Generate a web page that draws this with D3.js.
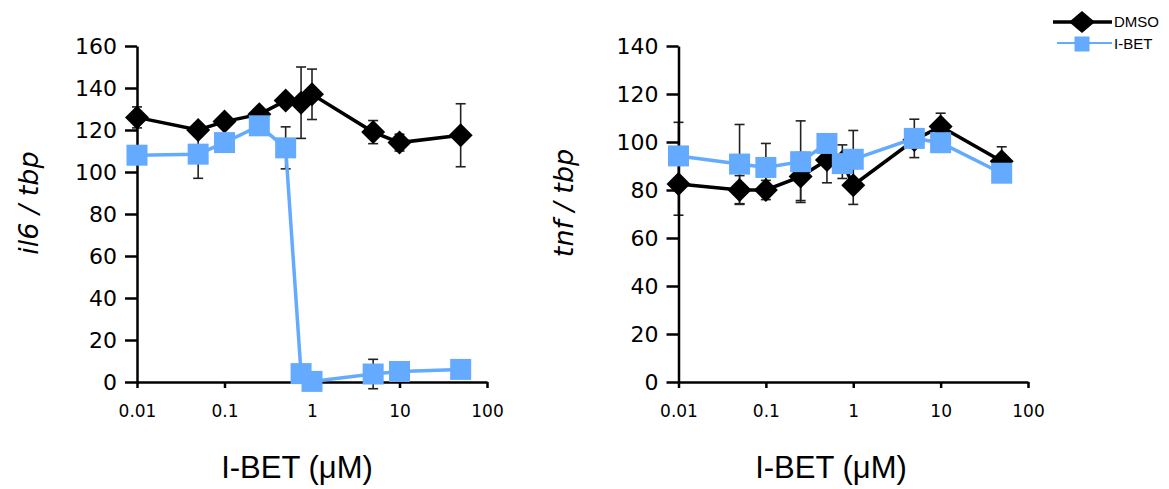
<!DOCTYPE html>
<html>
<head>
<meta charset="utf-8">
<script src="https://cdn.jsdelivr.net/npm/d3@7"></script>
<style>
  body { margin: 0; background: #fff; }
  svg { display: block; }
  .tick text { font-family: "DejaVu Sans", Verdana, sans-serif; fill: #000; }
  .title { font-family: "DejaVu Sans", Verdana, sans-serif; fill: #000; }
  .xtitle { font-family: "Liberation Sans", Arial, sans-serif; fill: #000; }
  .legend text { font-family: "Liberation Sans", Arial, sans-serif; font-size: 15px; fill: #000; }
</style>
</head>
<body>
<svg id="chart" width="1169" height="489"></svg>
<script>
// doses of I-BET (uM)
const doses = [0.01, 0.05, 0.1, 0.25, 0.5, 0.75, 1, 5, 10, 50];
const xTicks = [0.01, 0.1, 1, 10, 100];

// il6 / tbp
const il6Dmso    = [126, 120, 124, 127.5, 134, 133, 137, 119, 114, 117.5];
const il6DmsoErr = [5, 3, 2, 2, 2, 17, 12, 5.5, 4, 15];
const il6Ibet    = [108, 108.5, 114, 122, 111.5, 4, 0.3, 3.8, 5, 6];
const il6IbetErr = [2, 11.5, 2, 2, 10, 1, 1, 7, 2, 1];
const il6Ticks   = [0, 20, 40, 60, 80, 100, 120, 140, 160];

// tnf / tbp
const tnfDmso    = [82.5, 80, 80, 85.6, 92.5, 91.8, 82, 100.8, 106.5, 92];
const tnfDmsoErr = [13, 6, 4, 10, 9.5, 7, 8, 3, 5.5, 6];
const tnfIbet    = [94.2, 90.8, 89.4, 91.8, 99.4, 91, 92.8, 101.5, 99.7, 87];
const tnfIbetErr = [14, 16.5, 10, 17, 3, 3, 12, 8, 3, 3];
const tnfTicks   = [0, 20, 40, 60, 80, 100, 120, 140];

const BLACK = "#000";
const BLUE = "#64aaff";
const svg = d3.select("#chart");

function diamond(g, cx, cy, rx, ry, color){
  g.append("path")
    .attr("d", `M${cx},${cy-ry}L${cx+rx},${cy}L${cx},${cy+ry}L${cx-rx},${cy}Z`)
    .attr("fill", color);
}

function square(g, cx, cy, s, color){
  g.append("rect")
    .attr("x", cx - s/2).attr("y", cy - s/2)
    .attr("width", s).attr("height", s)
    .attr("fill", color);
}

function panel(opt){
  const x = d3.scaleLog().domain([0.01, 100]).range(opt.xRange);
  const y = d3.scaleLinear().domain([0, opt.yMax]).range([382, 46]);
  const g = svg.append("g");

  // error bars
  const series = [
    {v: opt.dmso, e: opt.dmsoErr},
    {v: opt.ibet, e: opt.ibetErr}
  ];
  series.forEach(s => {
    doses.forEach((d, i) => {
      const cx = x(d), y0 = y(s.v[i] - s.e[i]), y1 = y(s.v[i] + s.e[i]);
      const eb = g.append("g").attr("stroke", "#222").attr("stroke-width", 1.6);
      eb.append("line").attr("x1", cx).attr("x2", cx).attr("y1", y0).attr("y2", y1);
      eb.append("line").attr("x1", cx-5).attr("x2", cx+5).attr("y1", y0).attr("y2", y0);
      eb.append("line").attr("x1", cx-5).attr("x2", cx+5).attr("y1", y1).attr("y2", y1);
    });
  });

  // axes
  const yAxis = d3.axisLeft(y).tickValues(opt.yTicks).tickSize(12).tickPadding(8)
    .tickSizeOuter(0).tickFormat(d3.format("d"));
  const xAxis = d3.axisBottom(x).tickValues(xTicks).tickSize(6).tickPadding(17)
    .tickSizeOuter(0).tickFormat(d => d < 1 ? String(d) : d3.format("d")(d));

  g.append("g").attr("transform", `translate(${opt.xRange[0]},0)`).call(yAxis)
    .call(a => a.selectAll("text").attr("font-size", 22))
    .call(a => a.selectAll("line,path").attr("stroke", "#000").attr("stroke-width", 2.5));
  g.append("g").attr("transform", "translate(0,382)").call(xAxis)
    .call(a => a.selectAll("text").attr("font-size", 17))
    .call(a => a.selectAll("line,path").attr("stroke", "#000").attr("stroke-width", 2.5));

  // lines and markers
  const line = v => d3.line().x((d, i) => x(d)).y((d, i) => y(v[i]))(doses);
  g.append("path").attr("d", line(opt.dmso)).attr("fill", "none")
    .attr("stroke", BLACK).attr("stroke-width", 3.5);
  doses.forEach((d, i) => diamond(g, x(d), y(opt.dmso[i]), 12, 12, BLACK));
  g.append("path").attr("d", line(opt.ibet)).attr("fill", "none")
    .attr("stroke", BLUE).attr("stroke-width", 3.5);
  doses.forEach((d, i) => square(g, x(d), y(opt.ibet[i]), 21, BLUE));

  // titles
  g.append("text").attr("class", "xtitle").attr("x", opt.xTitleX).attr("y", 478)
    .attr("text-anchor", "middle").attr("font-size", 31).text("I-BET (\u03bcM)");
  g.append("text").attr("class", "title")
    .attr("transform", `translate(${opt.yTitleX},203) rotate(-90)`)
    .attr("text-anchor", "middle").attr("font-size", 27).attr("font-style", "italic")
    .text(opt.yTitle);
}

panel({xRange: [137, 487], yMax: 160, yTicks: il6Ticks, dmso: il6Dmso, dmsoErr: il6DmsoErr,
       ibet: il6Ibet, ibetErr: il6IbetErr, yTitle: "il6 / tbp", yTitleX: 38, xTitleX: 297});
panel({xRange: [678.5, 1028], yMax: 140, yTicks: tnfTicks, dmso: tnfDmso, dmsoErr: tnfDmsoErr,
       ibet: tnfIbet, ibetErr: tnfIbetErr, yTitle: "tnf / tbp", yTitleX: 573, xTitleX: 831});

// legend
const lg = svg.append("g").attr("class", "legend");
lg.append("line").attr("x1", 1053).attr("x2", 1112).attr("y1", 22).attr("y2", 22)
  .attr("stroke", BLACK).attr("stroke-width", 3.5);
diamond(lg, 1082, 22, 13, 11, BLACK);
lg.append("text").attr("x", 1114).attr("y", 27).text("DMSO");
lg.append("line").attr("x1", 1057).attr("x2", 1112).attr("y1", 43).attr("y2", 43)
  .attr("stroke", BLUE).attr("stroke-width", 2);
square(lg, 1082, 44, 15, BLUE);
lg.append("text").attr("x", 1114).attr("y", 49).text("I-BET");
</script>
</body>
</html>
